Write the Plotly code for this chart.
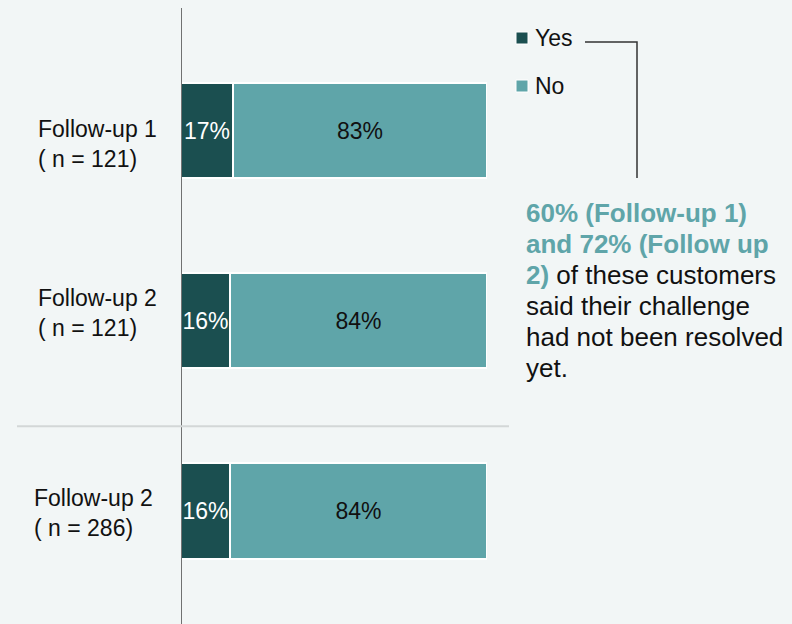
import plotly.graph_objects as go

# Survey responses: share of customers answering Yes / No
categories = ["Follow-up 1<br>( n = 121)", "Follow-up 2<br>( n = 121)", "Follow-up 2<br>( n = 286)"]
yes_pct = [17, 16, 16]
no_pct = [83, 84, 84]
series_names = ["Yes", "No"]
series_colors = ["#1b4f50", "#5fa5a9"]

W, H = 792, 624
BG = "#f2f6f6"
FONT = "Liberation Sans, Arial, sans-serif"


def px(x):
    return x / W


def py(y):
    return 1 - y / H


fig = go.Figure()
for name, vals, color, tcol in zip(series_names, [yes_pct, no_pct], series_colors, ["white", "#111111"]):
    fig.add_trace(go.Bar(
        y=categories, x=vals, name=name, orientation="h",
        marker=dict(color=color, line=dict(color="white", width=2)),
        text=[f"{v}%" for v in vals], textposition="inside", insidetextanchor="middle",
        textangle=0, constraintext="none",
        textfont=dict(family=FONT, size=23, color=tcol),
        showlegend=False, hoverinfo="skip",
    ))

shapes = []
annotations = []

# Vertical baseline at 0%
shapes.append(dict(type="line", xref="x", yref="paper", x0=0, x1=0, y0=0, y1=py(8),
                   line=dict(color="#444444", width=1.5)))
# Separator between the two cohorts
shapes.append(dict(type="line", xref="paper", yref="y", x0=px(17), x1=px(509), y0=1.555, y1=1.555,
                   line=dict(color="#d3d7d7", width=2)))

# Category labels, left aligned
label_shift = [-13, 8, -2]
for cat, dy in zip(categories, label_shift):
    annotations.append(dict(xref="paper", yref="y", x=px(32 if "286" in cat else 36), y=cat,
                            xanchor="left", yanchor="middle", align="left", showarrow=False,
                            yshift=dy, text=cat, font=dict(family=FONT, size=23, color="#111111")))

# Legend
for i, (name, color) in enumerate(zip(series_names, series_colors)):
    cy = 38 + 48 * i
    shapes.append(dict(type="rect", xref="paper", yref="paper", x0=px(516), x1=px(528),
                       y0=py(cy + 6), y1=py(cy - 6), fillcolor=color, line=dict(color="white", width=1)))
    annotations.append(dict(xref="paper", yref="paper", x=px(533), y=py(cy), xanchor="left", yanchor="middle",
                            showarrow=False, text=name, font=dict(family=FONT, size=23, color="#111111")))

# Bracket from the "Yes" entry to the note
shapes.append(dict(type="path", xref="paper", yref="paper",
                   path=f"M {px(585)} {py(42)} L {px(637)} {py(42)} L {px(637)} {py(178)}",
                   line=dict(color="#333333", width=1.5)))

TEAL = "#5fa5a9"
note_lines = [
    f"<b><span style='color:{TEAL}'>60% (Follow-up 1)</span></b>",
    f"<b><span style='color:{TEAL}'>and 72% (Follow up</span></b>",
    f"<b><span style='color:{TEAL}'>2)</span></b> of these customers",
    "said their challenge",
    "had not been resolved",
    "yet.",
]
for i, line in enumerate(note_lines):
    annotations.append(dict(xref="paper", yref="paper", x=px(524), y=py(213 + 31 * i),
                            xanchor="left", yanchor="middle", showarrow=False, align="left",
                            text=line, font=dict(family=FONT, size=26, color="#111111")))

fig.update_layout(
    width=W, height=H, margin=dict(l=0, r=0, t=0, b=0),
    paper_bgcolor=BG, plot_bgcolor=BG,
    barmode="stack", bargap=0.5,
    xaxis=dict(domain=[px(181), px(487)], range=[0, 100], visible=False, fixedrange=True),
    yaxis=dict(range=[2.594, -0.686], showticklabels=False, showgrid=False, zeroline=False,
               showline=False, ticks="", fixedrange=True),
    shapes=shapes, annotations=annotations,
    font=dict(family=FONT),
)

fig.write_html("out.html")
